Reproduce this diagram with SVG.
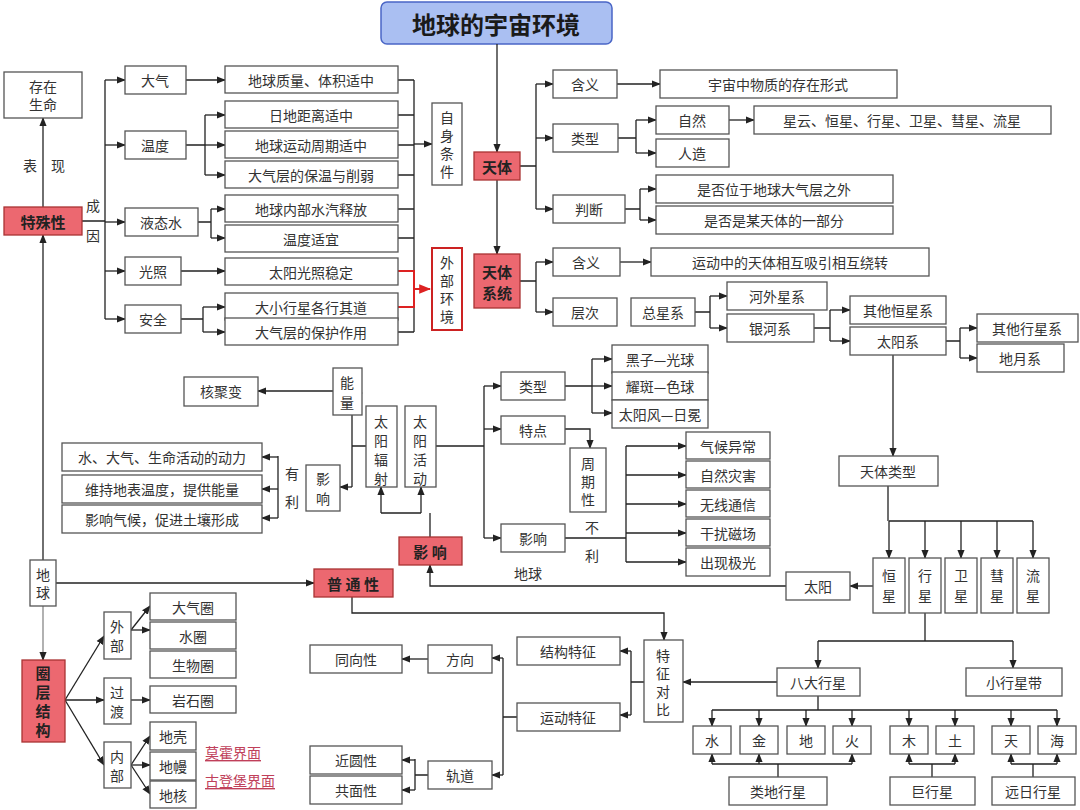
<svg xmlns="http://www.w3.org/2000/svg" width="1080" height="810" viewBox="0 0 1080 810">
<style>
text{font-family:"Noto Sans CJK SC","Noto Sans",sans-serif;font-size:14px;fill:#333;text-anchor:middle;dominant-baseline:central}
.b{fill:#fff;stroke:#555;stroke-width:1.3}
.r{fill:#ec6870;stroke:#a33;stroke-width:1.3}
.rt{font-weight:bold;fill:#222;font-size:15px}
.c path{fill:none;stroke:#222;stroke-width:1.3}
.c path.a{marker-end:url(#ah)}
.c path.red{stroke:#d22;stroke-width:2}
.lnk{fill:#c0405a;text-decoration:underline}
</style>
<defs><marker id="ah" viewBox="0 0 10 10" refX="9" refY="5" markerWidth="7" markerHeight="7" orient="auto"><path d="M0,1 L10,5 L0,9 z" fill="#222"/></marker>
<marker id="ahr" viewBox="0 0 10 10" refX="9" refY="5" markerWidth="6" markerHeight="6" orient="auto"><path d="M0,1 L10,5 L0,9 z" fill="#d22"/></marker></defs>
<rect width="1080" height="810" fill="#fff"/>
<g id="title"><rect x="381" y="2" width="231" height="42" rx="6" fill="#aabff2" stroke="#4a66c6" stroke-width="1.5"/><text x="496" y="23" style="font-size:24px;font-weight:bold;fill:#1a1a1a">地球的宇宙环境</text></g>
<g class="c">
<path class="a" d="M497,44V152"/><path class="a" d="M497,180V254"/>
<path d="M520,166H536M536,84V209"/><path class="a" d="M536,84H553"/><path class="a" d="M536,138H553"/><path class="a" d="M536,209H553"/>
<path class="a" d="M617,84H660"/>
<path d="M618,138H636M636,120V153"/><path class="a" d="M636,120H656"/><path class="a" d="M636,153H656"/><path class="a" d="M729,120H754"/>
<path d="M625,209H640M640,189V220"/><path class="a" d="M640,189H656"/><path class="a" d="M640,220H656"/>
<path d="M520,281H536M536,262V312"/><path class="a" d="M536,262H553"/><path class="a" d="M536,312H553"/><path class="a" d="M620,262H651"/>
<path d="M695,312H710M710,296V328"/><path class="a" d="M710,296H727"/><path class="a" d="M710,328H727"/>
<path d="M814,328H830M830,310V341"/><path class="a" d="M830,310H850"/><path class="a" d="M830,341H850"/>
<path d="M946,341H960M960,328V358"/><path class="a" d="M960,328H977"/><path class="a" d="M960,358H977"/>
<path class="a" d="M893,355V456"/>
<path d="M888,486V521M889,521H1033"/><path class="a" d="M889,521V558"/><path class="a" d="M925,521V558"/><path class="a" d="M961,521V558"/><path class="a" d="M997,521V558"/><path class="a" d="M1033,521V558"/>
<path class="a" d="M873,586H850"/><path class="a" d="M786,586H430V565"/>
<path d="M430,537V513M381,513H421"/><path class="a" d="M381,513V487"/><path class="a" d="M421,513V487"/>
<path d="M366,446H352M352,393V487"/><path class="a" d="M352,393H362"/><path class="a" d="M352,487H340"/>
<path class="a" d="M333,391H258"/>
<path d="M278,456V518"/><path class="a" d="M278,457H262"/><path class="a" d="M278,489H262"/><path class="a" d="M278,518H262"/>
<path d="M436,446H484M484,386V538"/><path class="a" d="M484,386H501"/><path class="a" d="M484,429H501"/><path class="a" d="M484,538H501"/>
<path d="M565,386H592M592,359V413"/><path class="a" d="M592,359H612"/><path class="a" d="M592,386H612"/><path class="a" d="M592,413H612"/>
<path class="a" d="M565,429H590V448"/>
<path d="M565,538H626M626,446V562"/><path class="a" d="M626,446H686"/><path class="a" d="M626,475H686"/><path class="a" d="M626,504H686"/><path class="a" d="M626,533H686"/><path class="a" d="M626,562H686"/>
<path class="a" d="M43,207V118"/>
<path d="M82,221H105M105,80V319"/><path class="a" d="M105,80H125"/><path class="a" d="M105,145H125"/><path class="a" d="M105,222H125"/><path class="a" d="M105,271H125"/><path class="a" d="M105,319H125"/>
<path class="a" d="M186,80H225"/>
<path d="M186,145H205M205,115V175"/><path class="a" d="M205,115H225"/><path class="a" d="M205,145H225"/><path class="a" d="M205,175H225"/>
<path d="M198,222H211M211,209V238"/><path class="a" d="M211,209H225"/><path class="a" d="M211,238H225"/>
<path class="a" d="M181,271H225"/>
<path d="M181,319H203M203,307V332"/><path class="a" d="M203,307H225"/><path class="a" d="M203,332H225"/>
<path d="M398,80H414M398,115H414M398,145H414M398,175H414M398,209H414M398,238H414M398,332H414M414,80V332"/><path class="a" d="M414,144H432"/>
<path class="red" d="M398,271H414V307H398M414,289H430" marker-end="url(#ahr)"/>
<path class="a" d="M43,560V235"/><path class="a" d="M56,583H314"/><path d="M43,606V630" style="stroke:#888"/><path class="a" d="M43,630V660" style="stroke:#888"/>
<path class="a" d="M65,700L104,636"/><path class="a" d="M65,700H104"/><path class="a" d="M65,700L104,765"/>
<path class="a" d="M131,630L150,606"/><path class="a" d="M131,630H150"/><path class="a" d="M131,700H150"/>
<path class="a" d="M131,765L150,736"/><path class="a" d="M131,765H150"/><path class="a" d="M131,765L150,794"/>
<path class="a" d="M352,597V613H664V640"/>
<path d="M644,682H631M631,651V715"/><path class="a" d="M631,651H620"/><path class="a" d="M631,715H620"/>
<path d="M517,717H503M503,658V775"/><path class="a" d="M503,658H492"/><path class="a" d="M503,775H492"/>
<path class="a" d="M428,659H402"/>
<path d="M428,775H415M415,759V790"/><path class="a" d="M415,760H402"/><path class="a" d="M415,790H402"/>
<path class="a" d="M777,682H683"/>
<path d="M925,613V641M818,641H1013"/><path class="a" d="M818,641V668"/><path class="a" d="M1013,641V668"/>
<path d="M818,696V710M712,710H1057"/><path class="a" d="M712,710V726"/><path class="a" d="M759,710V726"/><path class="a" d="M806,710V726"/><path class="a" d="M852,710V726"/><path class="a" d="M909,710V726"/><path class="a" d="M955,710V726"/><path class="a" d="M1011,710V726"/><path class="a" d="M1057,710V726"/>
<path d="M778,777V764M712,764H852"/><path class="a" d="M712,764V754"/><path class="a" d="M759,764V754"/><path class="a" d="M852,764V754"/>
<path d="M932,777V764M909,764H955"/><path class="a" d="M909,764V754"/><path class="a" d="M955,764V754"/>
<path d="M1033,777V764M1011,764H1057"/><path class="a" d="M1011,764V754"/><path class="a" d="M1057,764V754"/>
</g>
<g id="tianti"><rect class="r" x="474" y="152" width="46" height="28"/><text class="rt" x="497" y="166">天体</text></g>
<g id="tiantixitong"><rect class="r" x="474" y="254" width="46" height="54"/><text class="rt" x="497" y="271">天体</text><text class="rt" x="497" y="292">系统</text></g>
<g id="hanyi1"><rect class="b" x="553" y="70" width="64" height="28"/><text x="585" y="84">含义</text></g>
<g id="hanyi1t"><rect class="b" x="660" y="70" width="237" height="28"/><text x="778" y="84">宇宙中物质的存在形式</text></g>
<g id="leixing1"><rect class="b" x="553" y="124" width="65" height="28"/><text x="585" y="138">类型</text></g>
<g id="ziran"><rect class="b" x="656" y="106" width="73" height="28"/><text x="692" y="120">自然</text></g>
<g id="renzao"><rect class="b" x="656" y="139" width="73" height="28"/><text x="692" y="153">人造</text></g>
<g id="xingyun"><rect class="b" x="754" y="106" width="297" height="28"/><text x="902" y="120">星云、恒星、行星、卫星、彗星、流星</text></g>
<g id="panduan"><rect class="b" x="553" y="195" width="72" height="28"/><text x="589" y="209">判断</text></g>
<g id="pd1"><rect class="b" x="656" y="175" width="237" height="28"/><text x="774" y="189">是否位于地球大气层之外</text></g>
<g id="pd2"><rect class="b" x="656" y="206" width="237" height="28"/><text x="774" y="220">是否是某天体的一部分</text></g>
<g id="hanyi2"><rect class="b" x="553" y="248" width="67" height="28"/><text x="586" y="262">含义</text></g>
<g id="hanyi2t"><rect class="b" x="651" y="248" width="278" height="28"/><text x="790" y="262">运动中的天体相互吸引相互绕转</text></g>
<g id="cengci"><rect class="b" x="553" y="298" width="64" height="28"/><text x="585" y="312">层次</text></g>
<g id="zongxingxi"><rect class="b" x="631" y="298" width="64" height="28"/><text x="663" y="312">总星系</text></g>
<g id="hewai"><rect class="b" x="727" y="282" width="100" height="28"/><text x="777" y="296">河外星系</text></g>
<g id="yinhe"><rect class="b" x="727" y="314" width="87" height="28"/><text x="770" y="328">银河系</text></g>
<g id="qitahengxing"><rect class="b" x="850" y="296" width="96" height="28"/><text x="898" y="310">其他恒星系</text></g>
<g id="taiyangxi"><rect class="b" x="850" y="327" width="96" height="28"/><text x="898" y="341">太阳系</text></g>
<g id="qitaxingxing"><rect class="b" x="977" y="314" width="101" height="28"/><text x="1027" y="328">其他行星系</text></g>
<g id="diyue"><rect class="b" x="977" y="344" width="87" height="28"/><text x="1020" y="358">地月系</text></g>
<g id="tiantileixing"><rect class="b" x="839" y="456" width="99" height="30"/><text x="888" y="471">天体类型</text></g>
<g id="hengxing"><rect class="b" x="873" y="558" width="32" height="55"/><text x="889" y="575">恒</text><text x="889" y="595">星</text></g>
<g id="xingxing"><rect class="b" x="909" y="558" width="32" height="55"/><text x="925" y="575">行</text><text x="925" y="595">星</text></g>
<g id="weixing"><rect class="b" x="945" y="558" width="32" height="55"/><text x="961" y="575">卫</text><text x="961" y="595">星</text></g>
<g id="huixing"><rect class="b" x="981" y="558" width="32" height="55"/><text x="997" y="575">彗</text><text x="997" y="595">星</text></g>
<g id="liuxing"><rect class="b" x="1017" y="558" width="32" height="55"/><text x="1033" y="575">流</text><text x="1033" y="595">星</text></g>
<g id="taiyang"><rect class="b" x="786" y="572" width="64" height="28"/><text x="818" y="586">太阳</text></g>
<text x="528" y="573">地球</text>
<g id="yingxiang"><rect class="r" x="399" y="537" width="63" height="28"/><text class="rt" x="430" y="551">影 响</text></g>
<g id="fushe"><rect class="b" x="366" y="406" width="31" height="81"/><text x="381" y="421">太</text><text x="381" y="440">阳</text><text x="381" y="459">辐</text><text x="381" y="478">射</text></g>
<g id="huodong"><rect class="b" x="405" y="406" width="31" height="81"/><text x="420" y="421">太</text><text x="420" y="440">阳</text><text x="420" y="459">活</text><text x="420" y="478">动</text></g>
<g id="nengliang"><rect class="b" x="333" y="368" width="29" height="47"/><text x="347" y="382">能</text><text x="347" y="402">量</text></g>
<g id="juju"><rect class="b" x="184" y="377" width="74" height="29"/><text x="221" y="391">核聚变</text></g>
<g id="yingxiang2"><rect class="b" x="306" y="465" width="34" height="46"/><text x="323" y="478">影</text><text x="323" y="498">响</text></g>
<text x="292" y="473">有</text><text x="292" y="501">利</text>
<g id="yl1"><rect class="b" x="62" y="443" width="200" height="28"/><text x="162" y="457">水、大气、生命活动的动力</text></g>
<g id="yl2"><rect class="b" x="62" y="475" width="200" height="28"/><text x="162" y="489">维持地表温度，提供能量</text></g>
<g id="yl3"><rect class="b" x="62" y="505" width="200" height="28"/><text x="162" y="519">影响气候，促进土壤形成</text></g>
<g id="leixing2"><rect class="b" x="501" y="372" width="64" height="28"/><text x="533" y="386">类型</text></g>
<g id="tedian"><rect class="b" x="501" y="416" width="64" height="28"/><text x="533" y="430">特点</text></g>
<g id="yingxiang3"><rect class="b" x="501" y="524" width="64" height="28"/><text x="533" y="538">影响</text></g>
<g id="heizi"><rect class="b" x="612" y="345" width="96" height="28"/><text x="660" y="359">黑子—光球</text></g>
<g id="yaoban"><rect class="b" x="612" y="372" width="96" height="28"/><text x="660" y="386">耀斑—色球</text></g>
<g id="taiyangfeng"><rect class="b" x="612" y="400" width="96" height="28"/><text x="660" y="414">太阳风—日冕</text></g>
<g id="zhouqi"><rect class="b" x="570" y="448" width="36" height="64"/><text x="588" y="463">周</text><text x="588" y="481">期</text><text x="588" y="499">性</text></g>
<text x="592" y="527">不</text><text x="592" y="555">利</text>
<g id="qh"><rect class="b" x="686" y="432" width="84" height="27"/><text x="728" y="446">气候异常</text></g>
<g id="zr"><rect class="b" x="686" y="461" width="84" height="27"/><text x="728" y="475">自然灾害</text></g>
<g id="wx"><rect class="b" x="686" y="490" width="84" height="27"/><text x="728" y="504">无线通信</text></g>
<g id="gr"><rect class="b" x="686" y="519" width="84" height="27"/><text x="728" y="533">干扰磁场</text></g>
<g id="jg"><rect class="b" x="686" y="548" width="84" height="28"/><text x="728" y="562">出现极光</text></g>
<g id="teshuxing"><rect class="r" x="4" y="207" width="78" height="28"/><text class="rt" x="43" y="221">特殊性</text></g>
<g id="cunzai"><rect class="b" x="4" y="72" width="78" height="46"/><text x="43" y="86">存在</text><text x="43" y="104">生命</text></g>
<text x="30" y="165">表</text><text x="58" y="165">现</text><text x="93" y="205">成</text><text x="93" y="235">因</text>
<g id="daqi"><rect class="b" x="125" y="66" width="61" height="28"/><text x="155" y="80">大气</text></g>
<g id="wendu"><rect class="b" x="125" y="131" width="61" height="28"/><text x="155" y="145">温度</text></g>
<g id="yetai"><rect class="b" x="125" y="208" width="73" height="28"/><text x="161" y="222">液态水</text></g>
<g id="guangzhao"><rect class="b" x="125" y="257" width="56" height="28"/><text x="153" y="271">光照</text></g>
<g id="anquan"><rect class="b" x="125" y="305" width="56" height="28"/><text x="153" y="319">安全</text></g>
<g id="s1"><rect class="b" x="225" y="66" width="173" height="27"/><text x="311" y="80">地球质量、体积适中</text></g>
<g id="s2"><rect class="b" x="225" y="101" width="173" height="27"/><text x="311" y="115">日地距离适中</text></g>
<g id="s3"><rect class="b" x="225" y="131" width="173" height="27"/><text x="311" y="145">地球运动周期适中</text></g>
<g id="s4"><rect class="b" x="225" y="161" width="173" height="27"/><text x="311" y="175">大气层的保温与削弱</text></g>
<g id="s5"><rect class="b" x="225" y="195" width="173" height="27"/><text x="311" y="209">地球内部水汽释放</text></g>
<g id="s6"><rect class="b" x="225" y="225" width="173" height="27"/><text x="311" y="239">温度适宜</text></g>
<g id="s7"><rect class="b" x="225" y="258" width="173" height="27"/><text x="311" y="272">太阳光照稳定</text></g>
<g id="s8"><rect class="b" x="225" y="293" width="173" height="27"/><text x="311" y="307">大小行星各行其道</text></g>
<g id="s9"><rect class="b" x="225" y="318" width="173" height="27"/><text x="311" y="332">大气层的保护作用</text></g>
<g id="zishen"><rect class="b" x="432" y="103" width="30" height="82"/><text x="447" y="117">自</text><text x="447" y="135">身</text><text x="447" y="153">条</text><text x="447" y="171">件</text></g>
<g id="waibu"><rect x="432" y="248" width="30" height="82" fill="#fff" stroke="#c22" stroke-width="2"/><text x="447" y="262">外</text><text x="447" y="280">部</text><text x="447" y="298">环</text><text x="447" y="316">境</text></g>
<g id="diqiu"><rect class="b" x="30" y="560" width="26" height="46"/><text x="43" y="574">地</text><text x="43" y="592">球</text></g>
<g id="putong"><rect class="r" x="314" y="569" width="79" height="28"/><text class="rt" x="353" y="583">普 通 性</text></g>
<g id="quanceng"><rect class="r" x="22" y="660" width="43" height="82"/><text class="rt" x="43" y="672">圈</text><text class="rt" x="43" y="691">层</text><text class="rt" x="43" y="710">结</text><text class="rt" x="43" y="729">构</text></g>
<g id="waibu2"><rect class="b" x="104" y="612" width="27" height="47"/><text x="117" y="626">外</text><text x="117" y="645">部</text></g>
<g id="guodu"><rect class="b" x="104" y="678" width="27" height="46"/><text x="117" y="692">过</text><text x="117" y="711">渡</text></g>
<g id="neibu"><rect class="b" x="104" y="742" width="27" height="46"/><text x="117" y="756">内</text><text x="117" y="775">部</text></g>
<g id="dqq"><rect class="b" x="150" y="593" width="86" height="27"/><text x="193" y="607">大气圈</text></g>
<g id="sq"><rect class="b" x="150" y="622" width="86" height="27"/><text x="193" y="636">水圈</text></g>
<g id="swq"><rect class="b" x="150" y="651" width="86" height="27"/><text x="193" y="665">生物圈</text></g>
<g id="ysq"><rect class="b" x="150" y="686" width="86" height="27"/><text x="193" y="700">岩石圈</text></g>
<g id="diqiao"><rect class="b" x="150" y="722" width="46" height="28"/><text x="173" y="736">地壳</text></g>
<g id="diman"><rect class="b" x="150" y="752" width="46" height="28"/><text x="173" y="766">地幔</text></g>
<g id="dihe"><rect class="b" x="150" y="781" width="46" height="27"/><text x="173" y="795">地核</text></g>
<text class="lnk" x="233" y="752">莫霍界面</text><text class="lnk" x="240" y="780">古登堡界面</text>
<g id="tezheng"><rect class="b" x="644" y="640" width="39" height="82"/><text x="663" y="655">特</text><text x="663" y="673">征</text><text x="663" y="691">对</text><text x="663" y="709">比</text></g>
<g id="jiegou"><rect class="b" x="517" y="637" width="103" height="28"/><text x="568" y="651">结构特征</text></g>
<g id="yundong"><rect class="b" x="517" y="703" width="103" height="28"/><text x="568" y="717">运动特征</text></g>
<g id="fangxiang"><rect class="b" x="428" y="645" width="64" height="28"/><text x="460" y="659">方向</text></g>
<g id="tongxiang"><rect class="b" x="310" y="645" width="92" height="28"/><text x="356" y="659">同向性</text></g>
<g id="guidao"><rect class="b" x="428" y="761" width="64" height="28"/><text x="460" y="775">轨道</text></g>
<g id="jinyuan"><rect class="b" x="310" y="746" width="92" height="28"/><text x="356" y="760">近圆性</text></g>
<g id="gongmian"><rect class="b" x="310" y="776" width="92" height="28"/><text x="356" y="790">共面性</text></g>
<g id="bada"><rect class="b" x="777" y="668" width="83" height="28"/><text x="818" y="682">八大行星</text></g>
<g id="xiaoxingxing"><rect class="b" x="966" y="668" width="96" height="28"/><text x="1014" y="682">小行星带</text></g>
<g id="p1"><rect class="b" x="693" y="726" width="38" height="28"/><text x="712" y="740">水</text></g>
<g id="p2"><rect class="b" x="740" y="726" width="38" height="28"/><text x="759" y="740">金</text></g>
<g id="p3"><rect class="b" x="787" y="726" width="38" height="28"/><text x="806" y="740">地</text></g>
<g id="p4"><rect class="b" x="833" y="726" width="38" height="28"/><text x="852" y="740">火</text></g>
<g id="p5"><rect class="b" x="890" y="726" width="38" height="28"/><text x="909" y="740">木</text></g>
<g id="p6"><rect class="b" x="936" y="726" width="38" height="28"/><text x="955" y="740">土</text></g>
<g id="p7"><rect class="b" x="992" y="726" width="38" height="28"/><text x="1011" y="740">天</text></g>
<g id="p8"><rect class="b" x="1038" y="726" width="38" height="28"/><text x="1057" y="740">海</text></g>
<g id="leidi"><rect class="b" x="729" y="777" width="98" height="28"/><text x="778" y="791">类地行星</text></g>
<g id="ju"><rect class="b" x="890" y="777" width="85" height="28"/><text x="932" y="791">巨行星</text></g>
<g id="yuanri"><rect class="b" x="992" y="777" width="83" height="28"/><text x="1033" y="791">远日行星</text></g>
</svg>
